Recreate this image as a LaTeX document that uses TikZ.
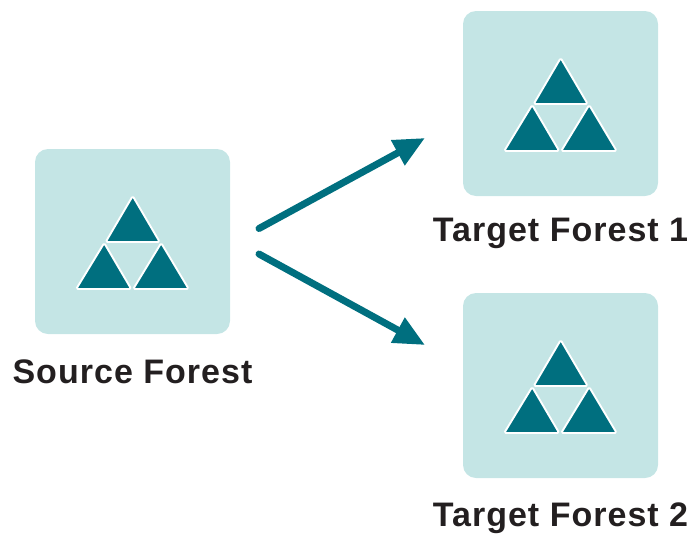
\documentclass[tikz,border=0pt]{standalone}
\usepackage{fontspec}
\setmainfont{Liberation Sans}
\newfontfamily\labelfont[LetterSpace=3,BoldFont={Liberation Sans Bold}]{Liberation Sans}
\usetikzlibrary{arrows.meta}
\definecolor{teal1}{HTML}{006F7F}
\definecolor{pale1}{HTML}{C4E5E5}
\definecolor{ink1}{HTML}{231F20}
\tikzset{
  x=1pt,y=-1pt,
  forestbox/.style={fill=pale1,draw=none,rounded corners=13pt,minimum width=195pt,minimum height=185pt,inner sep=0pt,outer sep=0pt},
  tri/.style={fill=teal1,draw=white,line width=1.9pt,line join=round,rounded corners=1.6pt},
  forestlabel/.style={font=\labelfont\fontsize{34}{40}\selectfont\bfseries,text=ink1,anchor=base,inner sep=0pt},
  flow/.style={draw=teal1,line width=7pt,line cap=round,-{Triangle[length=31pt,width=27pt,fill=teal1]}},
  pics/trio/.style={code={
    \draw[tri] (0,0) -- (27,46) -- (-27,46) -- cycle;
    \draw[tri] (-28.5,47) -- (-1.5,93) -- (-56.5,93) -- cycle;
    \draw[tri] (28.5,47) -- (56,93) -- (0.5,93) -- cycle;
  }}
}
\begin{document}
\begin{tikzpicture}
\useasboundingbox (0,0) rectangle (693,533);
\node[forestbox] (src) at (132.5,241.5) {};
\node[forestbox] (tgta) at (560.5,103.5) {};
\node[forestbox] (tgtb) at (560.5,385.5) {};
\pic at (132.7,196) {trio};
\pic at (560.7,58) {trio};
\pic at (560.7,340) {trio};
\node[forestlabel] (srclabel) at (132.5,383.5) {Source Forest};
\node[forestlabel] (tgtalabel) at (560.5,241.5) {Target Forest 1};
\node[forestlabel] (tgtblabel) at (560.5,526) {Target Forest 2};
\coordinate (s1) at (259,228.5);
\coordinate (e1) at (425,138);
\coordinate (s2) at (259,254);
\coordinate (e2) at (425,345);
\draw[flow] (s1) -- (e1);
\draw[flow] (s2) -- (e2);
\end{tikzpicture}
\end{document}
